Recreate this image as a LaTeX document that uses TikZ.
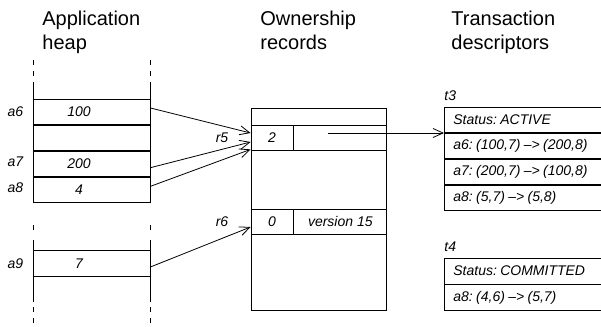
\documentclass[tikz,border=0pt]{standalone}
\usepackage{fontspec}
\setmainfont{Liberation Sans}
\usetikzlibrary{arrows.meta,positioning}

\tikzset{
  title/.style={font=\fontsize{20}{24}\selectfont,align=left,anchor=base west,inner sep=0pt},
  tag/.style={font=\fontsize{14}{16}\selectfont\itshape,inner sep=0pt},
  slot/.style={draw,minimum width=117pt,minimum height=25.25pt,inner sep=0pt},
  field/.style={draw,minimum height=25pt,inner sep=0pt,font=\fontsize{14}{16}\selectfont\itshape},
  entry/.style={draw,minimum width=160pt,minimum height=25.25pt,text width=142pt,inner xsep=9pt,inner ysep=0pt,align=left,
    execute at begin node={\fontsize{14}{16}\selectfont\itshape\frenchspacing}},
  ptr/.style={-{Straight Barb[length=10pt,width=9pt]}},
  gap/.style={dash pattern=on 5pt off 6pt}
}

\begin{document}
\begin{tikzpicture}[x=1pt,y=-1pt,line width=0.8pt]
  \clip (0,0) rectangle (601,326);

  % column titles
  \node[title] (heaptitle) at (42,50) {Application\\heap};
  \node[title] (orectitle) at (260,50) {Ownership\\records};
  \node[title] (desctitle) at (451,50) {Transaction\\descriptors};

  % application heap
  \foreach \x in {33,150} {
    \draw[gap] (\x,60) -- (\x,82);
    \draw (\x,82) -- (\x,200);
    \draw[gap] (\x,225) -- (\x,232);
    \draw (\x,240) -- (\x,302);
    \draw[gap] (\x,307) -- (\x,326);
  }
  \node[slot] (a6) at (91.5,111.6) {};
  \node[slot,below=0pt of a6] (free) {};
  \node[slot,below=0pt of free] (a7) {};
  \node[slot,below=0pt of a7] (a8) {};
  \node[slot] (a9) at (91.5,263.5) {};

  \node[tag] (v6) at ([xshift=-12.5pt]a6.center) {100};
  \node[tag] (v7) at ([xshift=-12.5pt]a7.center) {200};
  \node[tag] (v8) at ([xshift=-12.5pt]a8.center) {4};
  \node[tag] (v9) at ([xshift=-12.5pt]a9.center) {7};

  \node[tag] (l6) at (15.5,111.6) {a6};
  \node[tag] (l7) at (15.5,162.1) {a7};
  \node[tag] (l8) at (15.5,187.4) {a8};
  \node[tag] (l9) at (15.5,263.5) {a9};

  % ownership records
  \draw (251,108) rectangle (386,310);
  \node[field,minimum width=42pt] (r5n) at (272,137.5) {2};
  \node[field,minimum width=93pt,right=0pt of r5n] (r5p) {};
  \node[field,minimum width=42pt] (r6n) at (272,221.5) {0};
  \node[field,minimum width=93pt,right=0pt of r6n] (r6p) {version 15};
  \node[tag] (l5) at (222,137.5) {r5};
  \node[tag] (lr6) at (222,221.5) {r6};

  % transaction descriptors
  \node[tag,anchor=west] (t3) at (444,96) {t3};
  \node[entry,anchor=north west] (t3s) at (444,107) {Status: ACTIVE};
  \node[entry,below=0pt of t3s] (t3a6) {a6: (100,7) \textendash> (200,8)};
  \node[entry,below=0pt of t3a6] (t3a7) {a7: (200,7) \textendash> (100,8)};
  \node[entry,below=0pt of t3a7] (t3a8) {a8: (5,7) \textendash> (5,8)};

  \node[tag,anchor=west] (t4) at (444,247) {t4};
  \node[entry,anchor=north west,minimum height=25.5pt] (t4s) at (444,258) {Status: COMMITTED};
  \node[entry,below=0pt of t4s,minimum height=25.5pt] (t4a8) {a8: (4,6) \textendash> (5,7)};

  % pointers
  \draw[ptr] ([yshift=3.6pt]a6.east) -- ([yshift=4.5pt]r5n.west);
  \draw[ptr] ([yshift=-4pt]a7.east) -- ([yshift=-4.5pt]r5n.west);
  \draw[ptr] ([yshift=3.4pt]a8.east) -- ([yshift=1pt]r5n.south west);
  \draw[ptr] ([yshift=-3.5pt]a9.east) -- ([yshift=-5.5pt]r6n.west);
  \coordinate (r5ptr) at ([xshift=-12.5pt,yshift=4.5pt]r5p.center);
  \draw[ptr] (r5ptr) -- (r5ptr -| t3s.west);
\end{tikzpicture}
\end{document}
